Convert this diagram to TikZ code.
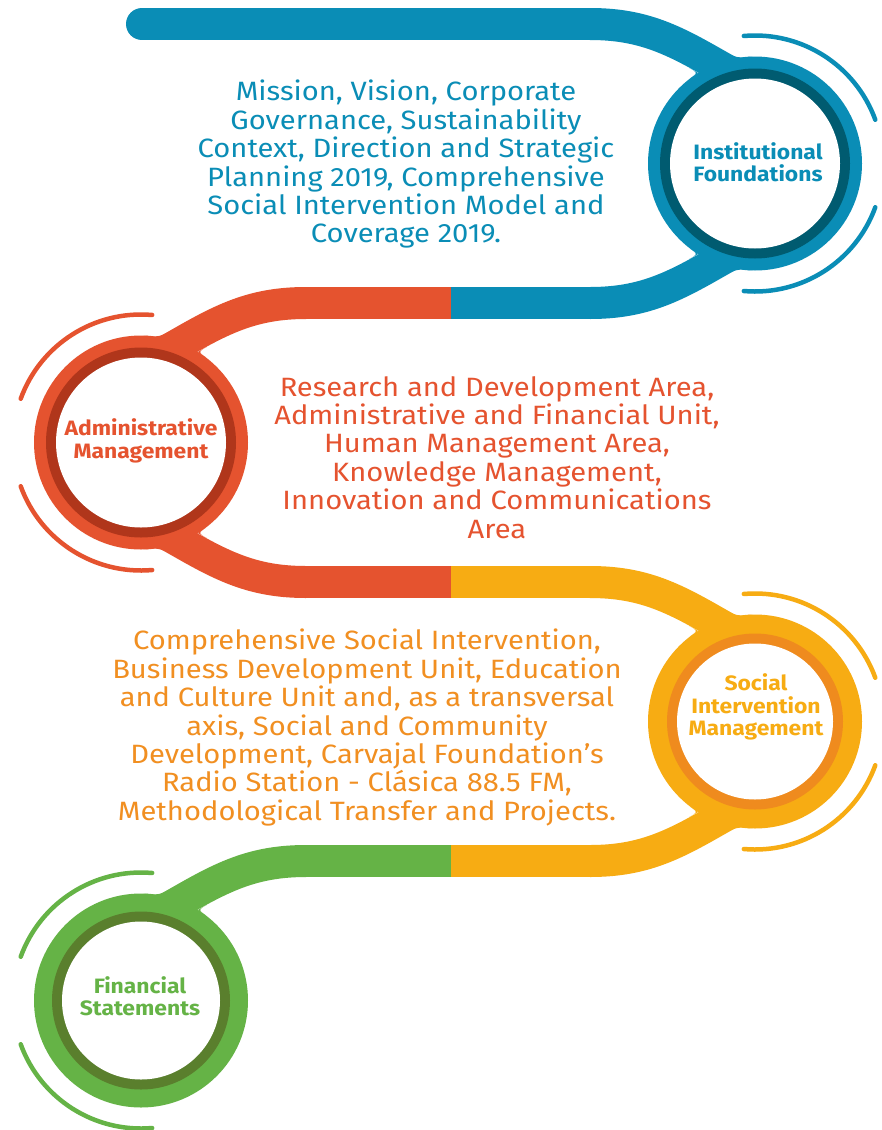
\documentclass[tikz,border=0pt]{standalone}
\usepackage{fontspec}
\setmainfont[FakeStretch=1.1]{Fira Sans}
\definecolor{fblue}{HTML}{0A8DB6}
\definecolor{fbluedark}{HTML}{005B70}
\definecolor{forange}{HTML}{E5532F}
\definecolor{forangedark}{HTML}{B0361B}
\definecolor{fyellow}{HTML}{F7AC13}
\definecolor{fyellowring}{HTML}{EF8B1E}
\definecolor{fyellowtext}{HTML}{F18F21}
\definecolor{fgreen}{HTML}{65B346}
\definecolor{fgreendark}{HTML}{5A7F2D}

% curved neck from a straight band into a hub, drawn relative to the hub
% centre for the upper-right case (mirror with scopes for the others)
\newcommand\neckband[1]{%
  \draw[band,#1] (-165,-139.5) .. controls (-115,-139.5) and (-85,-125.5) .. (-43,-101.5) -- (-15,-85.5);
}
% soft fillets where the neck meets the hub rim
\newcommand\neckfillets[1]{%
  \fill[#1] (-32.4,-113.4) -- (-18.5,-105.4) -- (-2.6,-107) .. controls (-18.5,-105.4) .. cycle;
  \fill[#1] (-65.7,-95.6) -- (-57,-90.6) -- (-64.9,-85.1) .. controls (-57,-90.6) .. cycle;
}
% hub disc: centre, band colour, ring colour, inner white radius
\newcommand\hubdisc[4]{%
  \fill[#2] (#1) circle[radius=107];
  \fill[#3] (#1) circle[radius=#4+10];
  \fill[white] (#1) circle[radius=#4];
}
% two thin halo arcs on the right or left side of a hub
\newcommand\halosright[2]{%
  \draw[halo,#2] (#1) ++(-20:128) arc[start angle=-20,end angle=-95,radius=128];
  \draw[halo,#2] (#1) ++(20:128) arc[start angle=20,end angle=95,radius=128];
}
\newcommand\halosleft[2]{%
  \draw[halo,#2] (#1) ++(-85:128) arc[start angle=-85,end angle=-160,radius=128];
  \draw[halo,#2] (#1) ++(85:128) arc[start angle=85,end angle=160,radius=128];
}

\begin{document}
\begin{tikzpicture}[x=1pt,y=-1pt,
  band/.style={line width=32pt},
  halo/.style={line width=4.5pt,line cap=round},
  bodytext/.style={align=center,font=\fontsize{26.5}{28.4}\selectfont,inner sep=0pt,anchor=north},
  hubtext/.style={align=center,font=\bfseries\fontsize{20.8}{22.5}\selectfont,inner sep=0pt},
]
\fill[white] (0,0) rectangle (881,1130);
\useasboundingbox (0,0) rectangle (881,1130);

\coordinate (blueC) at (755,163.5);
\coordinate (orangeC) at (141,442.5);
\coordinate (yellowC) at (755,721.5);
\coordinate (greenC) at (141,1000.5);

% straight runs of the serpentine track
\draw[band,fblue,line cap=round] (142,24) -- (591,24);
\draw[band,fblue] (450,303) -- (591,303);
\draw[band,forange] (450.5,303) -- (305,303);
\draw[band,fyellow] (450,582) -- (591,582);
\draw[band,forange] (450.5,582) -- (305,582);
\draw[band,fyellow] (450,861) -- (591,861);
\draw[band,fgreen] (450.5,861) -- (305,861);

% curved necks into the hubs
\begin{scope}[shift={(blueC)}]\neckband{fblue}\end{scope}
\begin{scope}[shift={(blueC)},yscale=-1]\neckband{fblue}\end{scope}
\begin{scope}[shift={(orangeC)},xscale=-1]\neckband{forange}\end{scope}
\begin{scope}[shift={(orangeC)},xscale=-1,yscale=-1]\neckband{forange}\end{scope}
\begin{scope}[shift={(yellowC)}]\neckband{fyellow}\end{scope}
\begin{scope}[shift={(yellowC)},yscale=-1]\neckband{fyellow}\end{scope}
\begin{scope}[shift={(greenC)},xscale=-1]\neckband{fgreen}\end{scope}

% hubs
\hubdisc{blueC}{fblue}{fbluedark}{85}
\hubdisc{orangeC}{forange}{forangedark}{85}
\hubdisc{yellowC}{fyellow}{fyellowring}{78}
\hubdisc{greenC}{fgreen}{fgreendark}{79}

\begin{scope}[shift={(blueC)}]\neckfillets{fblue}\end{scope}
\begin{scope}[shift={(blueC)},yscale=-1]\neckfillets{fblue}\end{scope}
\begin{scope}[shift={(orangeC)},xscale=-1]\neckfillets{forange}\end{scope}
\begin{scope}[shift={(orangeC)},xscale=-1,yscale=-1]\neckfillets{forange}\end{scope}
\begin{scope}[shift={(yellowC)}]\neckfillets{fyellow}\end{scope}
\begin{scope}[shift={(yellowC)},yscale=-1]\neckfillets{fyellow}\end{scope}
\begin{scope}[shift={(greenC)},xscale=-1]\neckfillets{fgreen}\end{scope}

\halosright{blueC}{fblue}
\halosleft{orangeC}{forange}
\halosright{yellowC}{fyellow}
\halosleft{greenC}{fgreen}

% hub labels
\node[hubtext,text=fblue] (lblInst) at (758,162) {Institutional\\Foundations};
\node[hubtext,text=forange] (lblAdmin) at (141,441) {Administrative\\Management};
\node[hubtext,text=fyellow] (lblSocial) at (756,707) {Social\\Intervention\\Management};
\node[hubtext,text=fgreen] (lblFin) at (140,996) {Financial\\Statements};

% descriptions
\node[bodytext,text=fblue] (txtInst) at (406,80) {Mission, Vision, Corporate\\Governance, Sustainability\\Context, Direction and Strategic\\Planning 2019, Comprehensive\\Social Intervention Model and\\Coverage 2019.};
\node[bodytext,text=forange] (txtAdmin) at (497,376) {Research and Development Area,\\Administrative and Financial Unit,\\Human Management Area,\\Knowledge Management,\\Innovation and Communications\\Area};
\node[bodytext,text=fyellowtext] (txtSocial) at (367,629) {Comprehensive Social Intervention,\\Business Development Unit, Education\\and Culture Unit and, as a transversal\\axis, Social and Community\\Development, Carvajal Foundation’s\\Radio Station - Clásica 88.5 FM,\\Methodological Transfer and Projects.};
\end{tikzpicture}
\end{document}
